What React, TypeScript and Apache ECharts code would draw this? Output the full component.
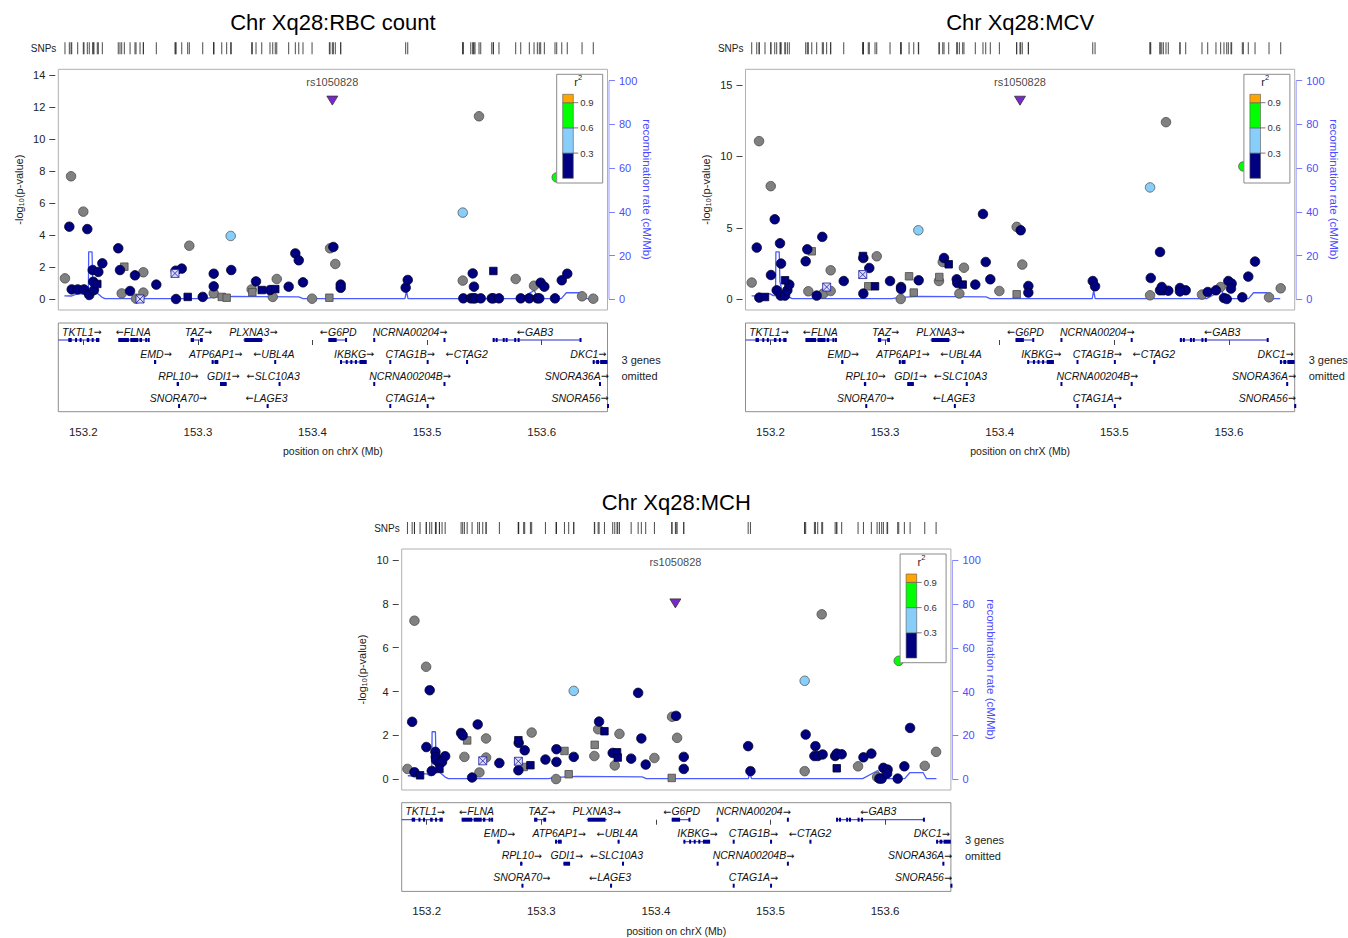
import React, { useEffect, useRef } from "react";
import * as echarts from "echarts";

const FONT = "'Liberation Sans', Arial, Helvetica, sans-serif";
const ARROW_FONT = "'DejaVu Sans', sans-serif";

const titles = ["Chr Xq28:RBC count", "Chr Xq28:MCV", "Chr Xq28:MCH"];
const leadSnp = "rs1050828";
const xTicks = [153.2, 153.3, 153.4, 153.5, 153.6];
const pTicksRbc = [0, 2, 4, 6, 8, 10, 12, 14];
const pTicksMcv = [0, 5, 10, 15];
const pTicksMch = [0, 2, 4, 6, 8, 10];
const recombTicks = [0, 20, 40, 60, 80, 100];
const r2Breaks = [0.3, 0.6, 0.9];
const r2Colors = ["#000080", "#87CEFA", "#00FF00", "#FFA500"];
const omittedText = ["3 genes", "omitted"];

// [position (Mb), -log10(p), class]
// g gray circle, gs gray square, n navy circle, ns navy square,
// x crossed square, l light blue, e green, p lead SNP
const rbcPoints: [number, number, string][] = [
  [153.1840, 1.29, "g"], [153.1893, 7.67, "g"], [153.1878, 4.52, "n"],
  [153.1899, 0.6, "n"], [153.1951, 0.6, "n"], [153.2006, 0.6, "n"],
  [153.2000, 5.46, "g"], [153.2035, 4.37, "n"], [153.2052, 0.25, "n"],
  [153.2082, 1.81, "n"], [153.2087, 1.08, "n"], [153.2093, 0.56, "n"],
  [153.2122, 0.94, "ns"], [153.2131, 1.69, "n"], [153.2166, 2.23, "n"],
  [153.2305, 3.17, "n"], [153.2320, 1.81, "n"], [153.2335, 0.35, "g"],
  [153.2358, 2.02, "gs"], [153.2408, 0.5, "n"], [153.2451, 1.48, "n"],
  [153.2460, 0.02, "g"], [153.2495, 0.0, "x"], [153.2524, 1.67, "g"],
  [153.2524, 0.4, "g"], [153.2637, 0.9, "n"], [153.2809, 0.0, "n"],
  [153.2800, 1.6, "x"], [153.2806, 1.77, "n"], [153.2859, 1.9, "n"],
  [153.2911, 0.13, "ns"], [153.2925, 3.33, "g"], [153.3042, 0.13, "n"],
  [153.3138, 1.58, "n"], [153.3138, 0.79, "n"], [153.3138, 0.35, "g"],
  [153.3208, 0.13, "gs"], [153.3251, 0.08, "gs"], [153.3286, 3.94, "l"],
  [153.3291, 1.81, "n"], [153.3469, 0.6, "g"], [153.3475, 0.42, "gs"],
  [153.3507, 1.1, "n"], [153.3557, 0.56, "ns"], [153.3629, 0.56, "n"],
  [153.3675, 0.62, "ns"], [153.3653, 0.13, "g"], [153.3688, 1.25, "g"],
  [153.3792, 0.77, "n"], [153.3850, 2.85, "n"], [153.3880, 2.42, "n"],
  [153.3917, 1.04, "n"], [153.3996, 0.02, "g"], [153.4153, 3.17, "g"],
  [153.4147, 0.08, "gs"], [153.4182, 3.25, "n"], [153.4199, 2.19, "g"],
  [153.4246, 0.9, "n"], [153.4246, 0.7, "n"], [153.4813, 0.71, "n"],
  [153.4831, 1.19, "n"], [153.5311, 1.15, "g"], [153.5311, 5.4, "l"],
  [153.5453, 11.42, "g"], [153.5398, 1.6, "n"], [153.5578, 1.75, "ns"],
  [153.5316, 0.04, "n"], [153.5381, 0.04, "n"], [153.5403, 0.04, "n"],
  [153.5418, 0.04, "n"], [153.5468, 0.04, "n"], [153.5564, 0.04, "n"],
  [153.5578, 0.04, "n"], [153.5627, 0.04, "n"], [153.5817, 0.04, "n"],
  [153.5892, 0.04, "n"], [153.5962, 0.04, "n"], [153.5979, 0.04, "n"],
  [153.6116, 0.04, "n"], [153.5409, 0.77, "n"], [153.5773, 1.25, "g"],
  [153.5933, 0.83, "g"], [153.5991, 1.02, "n"], [153.6023, 0.77, "n"],
  [153.6175, 1.17, "n"], [153.6223, 1.58, "n"], [153.6352, 0.17, "g"],
  [153.6450, 0.02, "g"], [153.6131, 7.6, "e"], [153.4173, 12.4, "p"],
];

const mcvPoints: [number, number, string][] = [
  [153.1836, 1.17, "g"], [153.1880, 3.62, "n"], [153.1900, 11.07, "g"],
  [153.1902, 0.12, "n"], [153.1952, 0.16, "ns"], [153.2004, 1.7, "n"],
  [153.2002, 7.92, "g"], [153.2037, 5.6, "n"], [153.2054, 0.63, "n"],
  [153.2083, 3.92, "n"], [153.2092, 2.5, "n"], [153.2089, 0.26, "n"],
  [153.2127, 0.26, "n"], [153.2127, 1.33, "ns"], [153.2147, 0.63, "n"],
  [153.2164, 1.03, "n"], [153.2307, 2.66, "n"], [153.2321, 3.5, "n"],
  [153.2360, 3.36, "gs"], [153.2330, 0.56, "g"], [153.2403, 0.26, "n"],
  [153.2452, 4.37, "n"], [153.2461, 0.4, "g"], [153.2490, 0.86, "x"],
  [153.2525, 0.58, "g"], [153.2525, 2.03, "g"], [153.2639, 1.28, "n"],
  [153.2807, 3.03, "ns"], [153.2810, 2.89, "n"], [153.2805, 1.73, "x"],
  [153.2810, 0.4, "n"], [153.2862, 2.19, "n"], [153.2853, 0.91, "gs"],
  [153.2912, 0.91, "ns"], [153.2927, 3.01, "g"], [153.3043, 1.28, "n"],
  [153.3139, 0.86, "n"], [153.3139, 0.72, "n"], [153.3136, 0.02, "g"],
  [153.3209, 1.61, "gs"], [153.3250, 0.47, "gs"], [153.3293, 1.33, "n"],
  [153.3290, 4.83, "l"], [153.3514, 2.89, "n"], [153.3503, 2.61, "g"],
  [153.3555, 2.45, "ns"], [153.3470, 1.28, "g"], [153.3473, 1.56, "gs"],
  [153.3625, 1.4, "n"], [153.3630, 1.14, "n"], [153.3677, 1.03, "ns"],
  [153.3648, 0.4, "g"], [153.3688, 2.21, "g"], [153.3787, 1.03, "n"],
  [153.3854, 5.97, "n"], [153.3878, 2.61, "n"], [153.3918, 1.4, "n"],
  [153.3997, 0.58, "g"], [153.4148, 5.07, "g"], [153.4183, 4.83, "n"],
  [153.4197, 2.43, "g"], [153.4148, 0.35, "gs"], [153.4250, 0.93, "n"],
  [153.4250, 0.47, "n"], [153.4812, 1.28, "n"], [153.4832, 0.91, "n"],
  [153.5312, 0.28, "g"], [153.5312, 7.83, "l"], [153.5318, 1.49, "n"],
  [153.5399, 3.31, "n"], [153.5451, 12.4, "g"], [153.5399, 0.63, "n"],
  [153.5428, 0.63, "n"], [153.5471, 0.6, "n"], [153.5414, 0.86, "n"],
  [153.5573, 0.79, "n"], [153.5623, 0.63, "n"], [153.5573, 0.55, "n"],
  [153.5765, 0.33, "g"], [153.5815, 0.51, "n"], [153.5887, 0.63, "n"],
  [153.5928, 0.86, "g"], [153.5957, 0.09, "n"], [153.5981, 0.02, "n"],
  [153.5995, 1.28, "n"], [153.6024, 1.1, "n"], [153.6018, 0.75, "n"],
  [153.6117, 0.14, "n"], [153.6169, 1.59, "n"], [153.6228, 2.64, "n"],
  [153.6350, 0.14, "g"], [153.6452, 0.77, "g"], [153.6126, 9.3, "e"],
  [153.4177, 13.9, "p"],
];

const mchPoints: [number, number, string][] = [
  [153.1832, 0.47, "g"], [153.1873, 2.62, "n"], [153.1893, 7.23, "g"],
  [153.1893, 0.32, "n"], [153.1942, 0.18, "ns"], [153.1995, 5.13, "g"],
  [153.2026, 4.06, "n"], [153.1997, 1.47, "n"], [153.2044, 0.38, "n"],
  [153.2076, 1.25, "n"], [153.2079, 1.02, "n"], [153.2082, 0.87, "n"],
  [153.2111, 0.74, "n"], [153.2111, 0.47, "ns"], [153.2161, 1.05, "n"],
  [153.2134, 0.79, "n"], [153.2300, 2.11, "n"], [153.2314, 2.0, "n"],
  [153.2329, 1.02, "g"], [153.2353, 1.77, "gs"], [153.2396, 0.08, "n"],
  [153.2445, 2.5, "n"], [153.2460, 0.31, "g"], [153.2489, 0.84, "x"],
  [153.2518, 1.86, "g"], [153.2518, 0.99, "g"], [153.2634, 0.74, "n"],
  [153.2800, 1.78, "ns"], [153.2803, 1.66, "n"], [153.2800, 0.82, "x"],
  [153.2800, 0.41, "n"], [153.2855, 1.32, "n"], [153.2846, 0.56, "gs"],
  [153.2905, 0.64, "ns"], [153.2916, 2.13, "g"], [153.3036, 0.9, "n"],
  [153.3132, 1.37, "n"], [153.3132, 0.79, "n"], [153.3129, 0.01, "g"],
  [153.3202, 1.29, "gs"], [153.3239, 0.23, "gs"], [153.3283, 4.03, "l"],
  [153.3283, 1.02, "n"], [153.3463, 1.06, "g"], [153.3466, 1.57, "gs"],
  [153.3496, 2.28, "g"], [153.3504, 2.63, "n"], [153.3551, 2.19, "ns"],
  [153.3682, 2.07, "g"], [153.3623, 1.2, "n"], [153.3661, 1.23, "ns"],
  [153.3667, 0.99, "ns"], [153.3641, 0.63, "g"], [153.3784, 0.94, "n"],
  [153.3845, 3.94, "n"], [153.3873, 1.86, "n"], [153.3911, 0.67, "n"],
  [153.3987, 0.97, "g"], [153.4141, 2.85, "g"], [153.4176, 2.89, "n"],
  [153.4185, 1.89, "g"], [153.4138, 0.06, "gs"], [153.4243, 1.02, "n"],
  [153.4243, 0.47, "n"], [153.4805, 1.51, "n"], [153.4825, 0.37, "n"],
  [153.5298, 0.37, "g"], [153.5298, 4.49, "l"], [153.5307, 2.04, "n"],
  [153.5447, 7.52, "g"], [153.5392, 1.51, "n"], [153.5383, 1.06, "n"],
  [153.5412, 1.06, "n"], [153.5455, 1.13, "n"], [153.5564, 1.06, "n"],
  [153.5578, 1.17, "n"], [153.5621, 1.14, "n"], [153.5578, 0.5, "ns"],
  [153.5764, 0.59, "g"], [153.5811, 1.0, "n"], [153.5880, 1.17, "n"],
  [153.5930, 0.1, "g"], [153.5950, 0.03, "n"], [153.5970, 0.03, "n"],
  [153.5985, 0.52, "n"], [153.6022, 0.44, "n"], [153.6017, 0.26, "n"],
  [153.6110, 0.03, "n"], [153.6168, 0.59, "n"], [153.6218, 2.34, "n"],
  [153.6346, 0.61, "g"], [153.6445, 1.25, "g"], [153.6119, 5.4, "e"],
  [153.4170, 8.02, "p"],
];

// recombination rate [position (Mb), cM/Mb]
const recombRate: [number, number][] = [
  [153.1835, 1.6], [153.1899, 1.5], [153.1945, 2.5], [153.1997, 2.5],
  [153.2024, 1.7], [153.2044, 1.7], [153.2047, 21.7], [153.2076, 21.7],
  [153.2082, 8], [153.2100, 4], [153.2128, 2.5], [153.2161, 1],
  [153.2189, 0.3], [153.3060, 0.3], [153.3132, 0.9], [153.3306, 1.3],
  [153.3880, 1.1], [153.3917, 0.3], [153.4807, 0.3], [153.4820, 4],
  [153.4833, 0.3], [153.5805, 0.3], [153.5936, 4], [153.5966, 0.3],
  [153.6171, 0.3], [153.6215, 3], [153.6332, 3], [153.6361, 0.3],
  [153.6448, 0.3],
];

// genes: [name, start, end, row, strand, label centre, exons, draw body line]
const genes: [string, number, number, number, string, number, number[][], boolean][] = [
  ["TKTL1", 153.1782, 153.2140, 0, "+", 153.1986,
    [[153.1869, 153.1899], [153.1928, 153.1942], [153.1968, 153.1983], [153.2030, 153.2052], [153.2073, 153.2087], [153.2111, 153.2140]], true],
  ["FLNA", 153.2305, 153.2573, 0, "-", 153.2436,
    [[153.2305, 153.2398], [153.2410, 153.2480], [153.2490, 153.2512], [153.2540, 153.2548], [153.2562, 153.2573]], true],
  ["TAZ", 153.2937, 153.3042, 0, "+", 153.3004, [[153.2937, 153.2966], [153.3018, 153.3042]], true],
  ["PLXNA3", 153.3396, 153.3571, 0, "+", 153.3483, [[153.3405, 153.3560]], true],
  ["G6PD", 153.4138, 153.4298, 0, "-", 153.4225, [[153.4138, 153.4211], [153.4284, 153.4298]], true],
  ["NCRNA00204", 153.4530, 153.5158, 0, "+", 153.4851, [[153.4530, 153.4545], [153.5143, 153.5158]], false],
  ["GAB3", 153.5572, 153.6334, 0, "-", 153.5942,
    [[153.5572, 153.5590], [153.5598, 153.5605], [153.5660, 153.5668], [153.5685, 153.5692], [153.5760, 153.5770], [153.5790, 153.5796], [153.6330, 153.6334]], true],
  ["EMD", 153.2617, 153.2636, 1, "+", 153.2634, [[153.2617, 153.2636]], true],
  ["ATP6AP1", 153.3120, 153.3178, 1, "+", 153.3155, [[153.3120, 153.3135], [153.3145, 153.3178]], true],
  ["UBL4A", 153.3666, 153.3682, 1, "-", 153.3664, [[153.3666, 153.3682]], true],
  ["IKBKG", 153.4240, 153.4473, 1, "+", 153.4362,
    [[153.4240, 153.4246], [153.4290, 153.4296], [153.4330, 153.4336], [153.4370, 153.4376], [153.4410, 153.4473]], true],
  ["CTAG1B", 153.4670, 153.5008, 1, "+", 153.4851, [[153.4670, 153.4682], [153.4996, 153.5008]], false],
  ["CTAG2", 153.5340, 153.5352, 1, "-", 153.5346, [[153.5340, 153.5352]], true],
  ["DKC1", 153.6445, 153.6573, 1, "+", 153.6407, [[153.6445, 153.6460], [153.6475, 153.6500], [153.6510, 153.6573]], true],
  ["RPL10", 153.2815, 153.2835, 2, "+", 153.2829, [[153.2815, 153.2835]], true],
  ["GDI1", 153.3193, 153.3251, 2, "+", 153.3222, [[153.3193, 153.3251]], true],
  ["SLC10A3", 153.3704, 153.3716, 2, "-", 153.3658, [[153.3704, 153.3716]], true],
  ["NCRNA00204B", 153.4530, 153.5158, 2, "+", 153.4851, [[153.4530, 153.4545], [153.5143, 153.5158]], false],
  ["SNORA36A", 153.6500, 153.6506, 2, "+", 153.6305, [[153.6500, 153.6506]], true],
  ["SNORA70", 153.2827, 153.2831, 3, "+", 153.2829, [[153.2827, 153.2831]], true],
  ["LAGE3", 153.3600, 153.3612, 3, "-", 153.3600, [[153.3600, 153.3612]], true],
  ["CTAG1A", 153.4670, 153.5008, 3, "+", 153.4851, [[153.4670, 153.4682], [153.4996, 153.5008]], false],
  ["SNORA56", 153.6570, 153.6576, 3, "+", 153.6334, [[153.6570, 153.6576]], true],
];

const X_MIN = 153.17818;
const X_MAX = 153.65741;
const R_MIN = -4.9;
const R_MAX = 105.2;

const panels = [
  { title: titles[0], pts: rbcPoints, ticks: pTicksRbc, yMin: -0.6875, yMax: 14.356, box: { left: 58.3, top: 69.3, width: 549.2, height: 240.7 } },
  { title: titles[1], pts: mcvPoints, ticks: pTicksMcv, yMin: -0.75, yMax: 16.1, box: { left: 745.5, top: 69.3, width: 549.2, height: 240.7 } },
  { title: titles[2], pts: mchPoints, ticks: pTicksMch, yMin: -0.49, yMax: 10.5, box: { left: 401.7, top: 549, width: 549.2, height: 241 } },
];

const CROSS = "path://M0,0L10,0L10,10L0,10Z M0,0L10,10 M10,0L0,10";
const TRI = "path://M0,0L10,0L5,9Z";

const classStyle: Record<string, any> = {
  g: { symbol: "circle", size: 9.5, color: "#808080", border: "#4a4a4a" },
  gs: { symbol: "rect", size: 7.5, color: "#808080", border: "#4a4a4a" },
  n: { symbol: "circle", size: 9.5, color: "#000080", border: "#00002a" },
  ns: { symbol: "rect", size: 7.5, color: "#000080", border: "#00002a" },
  x: { symbol: CROSS, size: 8, color: "#dcdcff", border: "#1a1a99" },
  l: { symbol: "circle", size: 9.5, color: "#87CEFA", border: "#555555" },
  e: { symbol: "circle", size: 9.5, color: "#00FF00", border: "#555555" },
  p: { symbol: TRI, size: [11, 9], color: "#7D26CD", border: "#333333" },
};
const classOrder = ["g", "gs", "n", "ns", "x", "l", "e", "p"];

function txt(x: number, y: number, text: string, o: any = {}) {
  return {
    type: "text",
    x,
    y,
    z: 100,
    silent: true,
    style: {
      text,
      fontSize: o.size || 11,
      fontFamily: FONT,
      fontStyle: o.italic ? "italic" : "normal",
      fill: o.color || "#111",
      textAlign: o.align || "left",
      textVerticalAlign: "middle",
      align: o.align || "left",
      verticalAlign: "middle",
    },
  };
}

function buildOption() {
  const grid: any[] = [];
  const xAxis: any[] = [];
  const yAxis: any[] = [];
  const series: any[] = [];
  const graphic: any[] = [];

  panels.forEach((P) => {
    const b = P.box;
    const right = b.left + b.width;
    const geneTop = b.top + 253.7;
    const geneH = 88.7;
    const rugTop = b.top - 27;

    const gMain = grid.length;
    grid.push({ left: b.left, top: b.top, width: b.width, height: b.height, show: true, borderColor: "#b0b0b0", borderWidth: 1, backgroundColor: "transparent" });
    const gGene = grid.length;
    grid.push({ left: b.left, top: geneTop, width: b.width, height: geneH, show: true, borderColor: "#8e8e8e", borderWidth: 1, backgroundColor: "transparent" });
    const gRug = grid.length;
    grid.push({ left: b.left, top: rugTop, width: b.width, height: 12, show: false });

    const xMain = xAxis.length;
    xAxis.push({ type: "value", gridIndex: gMain, min: X_MIN, max: X_MAX, show: false });
    xAxis.push({
      type: "value", gridIndex: gGene, min: X_MIN, max: X_MAX, position: "bottom",
      axisLine: { show: false },
      axisTick: { show: true, length: 5, customValues: xTicks, lineStyle: { color: "#444" } },
      axisLabel: { customValues: xTicks, formatter: (v: number) => v.toFixed(1), margin: 14, fontSize: 11.5, color: "#222", fontFamily: FONT },
      splitLine: { show: false },
      name: "position on chrX (Mb)", nameLocation: "middle", nameGap: 34,
      nameTextStyle: { fontSize: 10.5, color: "#222", fontFamily: FONT },
    });
    const xGene = xAxis.length - 1;
    xAxis.push({ type: "value", gridIndex: gRug, min: X_MIN, max: X_MAX, show: false });
    const xRug = xAxis.length - 1;

    const yLeft = yAxis.length;
    yAxis.push({
      type: "value", gridIndex: gMain, position: "left", offset: 3, min: P.yMin, max: P.yMax,
      axisLine: { show: false },
      axisTick: { show: true, length: 6, customValues: P.ticks, lineStyle: { color: "#444" } },
      axisLabel: { customValues: P.ticks, margin: 10, fontSize: 11, color: "#222", fontFamily: FONT },
      splitLine: { show: false },
      name: "-log\u2081\u2080(p-value)", nameLocation: "middle", nameGap: 31, nameRotate: 90,
      nameTextStyle: { fontSize: 11, color: "#222", fontFamily: FONT },
    });
    const yRight = yAxis.length;
    yAxis.push({
      type: "value", gridIndex: gMain, position: "right", offset: 1.5, min: R_MIN, max: R_MAX,
      axisLine: { show: false },
      axisTick: { show: true, length: 6, customValues: recombTicks, lineStyle: { color: "#7f7fff" } },
      axisLabel: { customValues: recombTicks, margin: 10, fontSize: 11, color: "#4d4dff", fontFamily: FONT },
      splitLine: { show: false },
      name: "recombination rate (cM/Mb)", nameLocation: "middle", nameGap: 30, nameRotate: -90,
      nameTextStyle: { fontSize: 11.5, color: "#4d4dff", fontFamily: FONT },
    });
    const yGene = yAxis.length;
    yAxis.push({ type: "value", gridIndex: gGene, min: -0.773, max: 3.259, inverse: true, show: false });
    const yRug = yAxis.length;
    yAxis.push({ type: "value", gridIndex: gRug, min: 0, max: 1, show: false });

    // recombination rate line
    series.push({
      type: "line", xAxisIndex: xMain, yAxisIndex: yRight, data: recombRate,
      symbol: "none", lineStyle: { color: "#4a5cff", width: 1.3 }, z: 1, silent: true,
    });
    // right axis spine (0-100 only)
    series.push({
      type: "custom", xAxisIndex: xMain, yAxisIndex: yRight, data: [[X_MAX, 0]], silent: true, z: 2,
      renderItem: (_p: any, api: any) => {
        const a = api.coord([X_MAX, 0]);
        const c = api.coord([X_MAX, 100]);
        return { type: "line", shape: { x1: a[0] + 1.5, y1: a[1], x2: c[0] + 1.5, y2: c[1] }, style: { stroke: "#9a9aff", lineWidth: 1 } };
      },
    });
    // association points
    const sorted = [...P.pts].sort((a, c) => classOrder.indexOf(a[2]) - classOrder.indexOf(c[2]));
    series.push({
      type: "scatter", xAxisIndex: xMain, yAxisIndex: yLeft, z: 3, silent: true,
      data: sorted.map((p) => {
        const s = classStyle[p[2]];
        return { value: [p[0], p[1]], symbol: s.symbol, symbolSize: s.size, itemStyle: { color: s.color, borderColor: s.border, borderWidth: 0.8, opacity: 1 } };
      }),
    });
    // lead SNP label
    const lead = P.pts.find((p) => p[2] === "p")!;
    const labelVal = P.yMax - (13 / b.height) * (P.yMax - P.yMin);
    series.push({
      type: "scatter", xAxisIndex: xMain, yAxisIndex: yLeft, z: 4, silent: true,
      symbolSize: 1, itemStyle: { color: "rgba(0,0,0,0)" },
      data: [[lead[0], labelVal]],
      label: { show: true, position: "inside", formatter: leadSnp, fontSize: 11, color: "#111", fontFamily: FONT },
    });
    // genes
    series.push({
      type: "custom", xAxisIndex: xGene, yAxisIndex: yGene, silent: true, z: 3,
      data: genes.map((g) => [g[1], g[3]]),
      renderItem: (params: any, api: any) => {
        const g = genes[params.dataIndex];
        const [name, start, end, row, strand, labelPos, exons, drawLine] = g;
        const children: any[] = [];
        const p0 = api.coord([start, row]);
        const p1 = api.coord([end, row]);
        if (drawLine) {
          children.push({ type: "line", shape: { x1: p0[0], y1: p0[1], x2: p1[0], y2: p1[1] }, style: { stroke: "#2b2bd0", lineWidth: 1 } });
        }
        exons.forEach(([s, e]) => {
          const a = api.coord([s, row]);
          const c = api.coord([e, row]);
          const w = Math.max(2, c[0] - a[0]);
          children.push({ type: "rect", shape: { x: a[0], y: a[1] - 2, width: w, height: 4 }, style: { fill: "#000090" } });
        });
        const lp = api.coord([labelPos, row]);
        const label = strand === "+" ? "{n|" + name + "}{a|\u2192}" : "{a|\u2190}{n|" + name + "}";
        children.push({
          type: "text", x: lp[0], y: lp[1] - 8.5,
          style: {
            text: label, fontSize: 10, fontFamily: FONT, fill: "#111", align: "center", verticalAlign: "middle",
            rich: {
              n: { fontSize: 10.5, fontStyle: "italic", fontFamily: FONT, fill: "#111" },
              a: { fontSize: 9.5, fontFamily: ARROW_FONT, fill: "#111" },
            },
          },
        });
        return { type: "group", children };
      },
    });
    // SNP rug
    series.push({
      type: "scatter", xAxisIndex: xRug, yAxisIndex: yRug, silent: true,
      symbol: "rect", symbolSize: [1, 12],
      itemStyle: { color: "#2a2a2a", opacity: 0.85 },
      data: P.pts.map((p) => [p[0], 0.5]),
    });

    // decorations
    graphic.push(txt(b.left + b.width / 2, b.top - 47, P.title, { size: 22, align: "center", color: "#000" }));
    graphic.push(txt(b.left - 2, rugTop + 6, "SNPs", { size: 10, align: "right", color: "#222" }));
    graphic.push(txt(right + 14, geneTop + 37, omittedText[0], { size: 11, color: "#222" }));
    graphic.push(txt(right + 14, geneTop + 53, omittedText[1], { size: 11, color: "#222" }));

    // r2 legend
    const lx = right - 50.8;
    const ly = b.top + 5;
    graphic.push({ type: "rect", z: 100, silent: true, shape: { x: lx, y: ly, width: 46, height: 108.7 }, style: { fill: "#fff", stroke: "#8a8a8a", lineWidth: 1 } });
    const barX = lx + 6;
    const barW = 10.6;
    const yOf = (r: number) => ly + 104 - 84 * r;
    const edges = [0, ...r2Breaks, 1];
    for (let k = 0; k < 4; k++) {
      graphic.push({ type: "rect", z: 101, silent: true, shape: { x: barX, y: yOf(edges[k + 1]), width: barW, height: yOf(edges[k]) - yOf(edges[k + 1]) }, style: { fill: r2Colors[k], stroke: "#555", lineWidth: 0.6 } });
    }
    r2Breaks.forEach((r) => {
      graphic.push({ type: "line", z: 101, silent: true, shape: { x1: barX + barW, y1: yOf(r), x2: barX + barW + 5, y2: yOf(r) }, style: { stroke: "#555", lineWidth: 0.8 } });
      graphic.push(txt(barX + barW + 7, yOf(r), r.toFixed(1), { size: 9.5, color: "#333" }));
    });
    graphic.push(txt(lx + 19.3, ly + 8, "r", { size: 11, align: "center", color: "#222" }));
    graphic.push(txt(lx + 23.3, ly + 3, "2", { size: 7.5, align: "center", color: "#222" }));
  });

  return { animation: false, backgroundColor: "#fff", textStyle: { fontFamily: FONT }, grid, xAxis, yAxis, series, graphic };
}

export default function App() {
  const ref = useRef<HTMLDivElement>(null);
  useEffect(() => {
    if (!ref.current) return;
    const chart = echarts.init(ref.current, undefined, { renderer: "svg" });
    chart.setOption(buildOption() as any);
    return () => chart.dispose();
  }, []);
  return (
    <div
      ref={ref}
      style={{ position: "fixed", left: 0, top: 0, width: 1348, height: 938, background: "#fff" }}
    />
  );
}
